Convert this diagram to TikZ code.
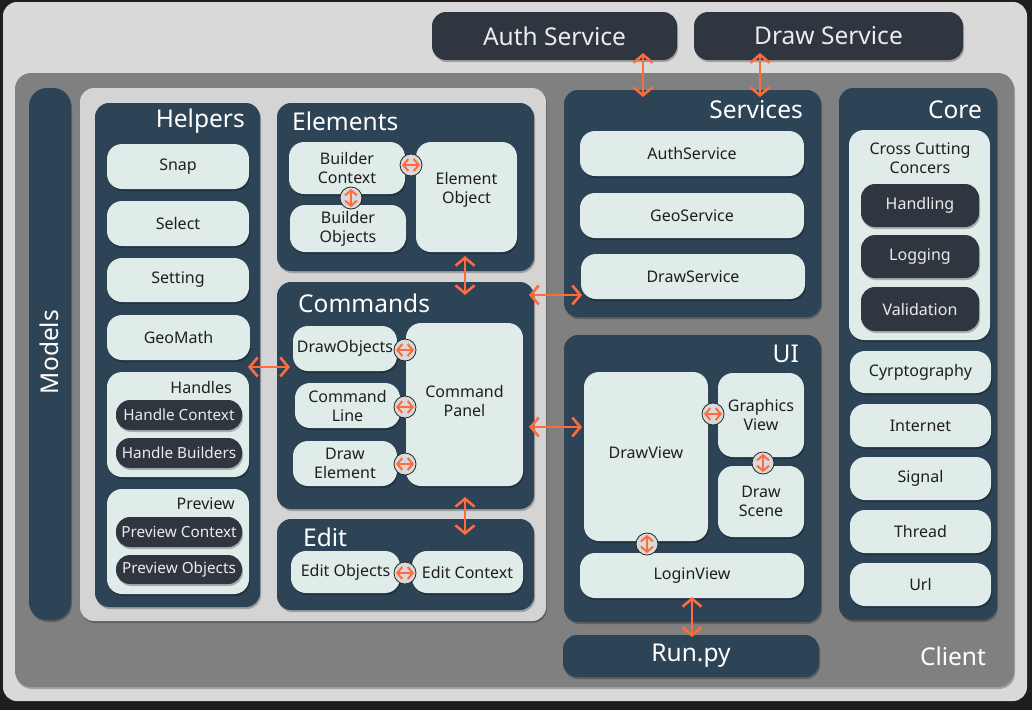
\documentclass[tikz,border=0pt]{standalone}
\usepackage{fontspec}
\setmainfont{Noto Sans}
\usetikzlibrary{arrows.meta,shadows}
\definecolor{bgdark}{HTML}{1E1E1E}
\definecolor{outerc}{HTML}{D9D9D9}
\definecolor{midgray}{HTML}{808080}
\definecolor{innerc}{HTML}{D4D4D4}
\definecolor{navy}{HTML}{2D4356}
\definecolor{mint}{HTML}{DFECE9}
\definecolor{pillc}{HTML}{30363F}
\definecolor{orng}{HTML}{FF6B3D}
\definecolor{circc}{HTML}{D9D9D9}
\tikzset{
  base/.style={inner sep=0, outer sep=0},
  shad/.style={drop shadow={shadow xshift=1pt, shadow yshift=-2pt, opacity=0.25, fill=black}},
  panel/.style={base, fill=navy, rounded corners=14, shad},
  item/.style={base, fill=mint, rounded corners=15, text=black!88, align=center,
    font=\fontsize{16}{19}\selectfont, shad},
  darkpill/.style={base, fill=pillc, rounded corners=14, text=white!92!black, align=center,
    font=\fontsize{15.3}{18}\selectfont, shad},
  ttl/.style={inner sep=0, text=white, font=\fontsize{24.5}{28}\selectfont},
  sublbl/.style={inner sep=0, text=black!88, align=center, font=\fontsize{16}{19}\selectfont},
  conn/.style={draw=orng, line width=2.6pt,
    {Straight Barb[length=8pt,width=19pt]}-{Straight Barb[length=8pt,width=19pt]}},
  cir/.style={circle, fill=circc, draw=black!85, line width=0.8pt, minimum size=22pt, inner sep=0},
  sarr/.style={draw=orng, line width=2pt,
    {Straight Barb[length=5pt,width=12pt]}-{Straight Barb[length=5pt,width=12pt]}},
}
\newcommand\bx[7]{\node[#6, minimum width={#4-#2}, minimum height={#5-#3}] (#1) at ({(#2+#4)/2},{(#3+#5)/2}) {#7};}
\begin{document}
\begin{tikzpicture}[x=1pt,y=-1pt]
\fill[bgdark] (0,0) rectangle (1032,710);
\useasboundingbox (0,0) rectangle (1032,710);
% outer frames
\bx{frame}{3}{2}{1027}{701}{base, fill=outerc, rounded corners=14}{}
\bx{client}{15}{73}{1014}{687}{base, fill=midgray, rounded corners=16, shad}{}
\node[ttl] (clientlbl) at (953,656) {Client};
% external services
\bx{authS}{432}{12}{677}{60}{darkpill, font=\fontsize{24.5}{28}\selectfont}{Auth Service}
\bx{drawS}{694}{12}{963}{60}{darkpill, font=\fontsize{24.5}{28}\selectfont}{Draw Service}
% models
\bx{models}{29}{88}{71}{620}{panel, rounded corners=18}{}
\node[ttl, rotate=90] (modelslbl) at (49,352) {Models};
% light inner panel
\bx{innerp}{80}{88}{546}{621}{base, fill=innerc, rounded corners=14, shad}{}
% helpers
\bx{helpers}{95}{103}{260}{607}{panel}{}
\node[ttl, anchor=east] (helperslbl) at (245,121) {Helpers};
\bx{snap}{107}{144}{249}{189}{item}{Snap}
\bx{select}{107}{201}{249}{246}{item}{Select}
\bx{setting}{107}{258}{249}{302}{item}{Setting}
\bx{geomath}{107}{315}{250}{360}{item}{GeoMath}
\bx{handles}{107}{372}{249}{477}{item}{}
\node[sublbl, anchor=east] (handleslbl) at (232,387) {Handles};
\bx{hctx}{116}{400}{242}{430}{darkpill}{Handle Context}
\bx{hbld}{116}{438}{242}{468}{darkpill}{Handle Builders}
\bx{preview}{107}{489}{249}{594}{item}{}
\node[sublbl, anchor=east] (previewlbl) at (235,504) {Preview};
\bx{pctx}{116}{517}{242}{547}{darkpill}{Preview Context}
\bx{pobj}{116}{555}{242}{584}{darkpill}{Preview Objects}
% elements
\bx{elements}{277}{103}{534}{271}{panel}{}
\node[ttl, anchor=west] (elementslbl) at (292,121) {Elements};
\bx{bctx}{289}{142}{405}{194}{item}{Builder\\Context}
\bx{bobj}{290}{205}{406}{252}{item}{Builder\\Objects}
\bx{eobj}{416}{142}{517}{252}{item}{}
\node[sublbl] (eobjlbl) at (466.5,189.5) {Element\\Object};
\node[cir] (c1) at (411,165) {};
\node[cir] (c2) at (351,198) {};
% commands
\bx{commands}{277}{282}{534}{509}{panel}{}
\node[ttl, anchor=west] (commandslbl) at (298,303) {Commands};
\bx{dobj}{293}{326}{397}{371}{item}{DrawObjects}
\bx{cline}{295}{383}{400}{428}{item}{Command\\Line}
\bx{delem}{293}{441}{397}{486}{item}{Draw\\Element}
\bx{cpanel}{406}{323}{523}{486}{item}{}
\node[sublbl] (cpanellbl) at (464.5,401) {Command\\Panel};
\node[cir] (c3) at (405,350) {};
\node[cir] (c4) at (405,407) {};
\node[cir] (c5) at (405,464) {};
% edit
\bx{edit}{277}{519}{534}{610}{panel}{}
\node[ttl, anchor=west] (editlbl) at (303,537) {Edit};
\bx{eobjs}{291}{551}{400}{593}{item}{Edit Objects}
\bx{ectx}{412}{551}{523}{593}{item}{Edit Context}
\node[cir] (c6) at (405,573) {};
% services
\bx{services}{564}{90}{821}{317}{panel}{}
\node[ttl, anchor=east] (serviceslbl) at (803,110) {Services};
\bx{authsvc}{580}{131}{804}{176}{item}{AuthService}
\bx{geosvc}{580}{193}{804}{238}{item}{GeoService}
\bx{drawsvc}{581}{254}{805}{299}{item}{DrawService}
% core
\bx{core}{839}{88}{997}{620}{panel}{}
\node[ttl, anchor=east] (corelbl) at (982,110) {Core};
\bx{cross}{849}{130}{990}{340}{item}{}
\node[sublbl] (crosslbl) at (920,158) {Cross Cutting\\Concers};
\bx{handling}{861}{184}{979}{227}{darkpill, font=\fontsize{16}{19}\selectfont}{Handling}
\bx{logging}{861}{235}{979}{278}{darkpill, font=\fontsize{16}{19}\selectfont}{Logging}
\bx{validation}{861}{287}{979}{331}{darkpill, font=\fontsize{16}{19}\selectfont}{Validation}
\bx{crypto}{850}{351}{991}{393}{item}{Cyrptography}
\bx{internet}{850}{404}{991}{447}{item}{Internet}
\bx{signal}{850}{457}{991}{500}{item}{Signal}
\bx{thread}{850}{510}{991}{553}{item}{Thread}
\bx{url}{850}{563}{991}{606}{item}{Url}
% UI
\bx{ui}{564}{335}{821}{622}{panel}{}
\node[ttl, anchor=east] (uilbl) at (799,354) {UI};
\bx{drawview}{584}{372}{708}{541}{item}{}
\node[sublbl] (drawviewlbl) at (646,453) {DrawView};
\bx{gview}{718}{373}{804}{457}{item}{Graphics\\View}
\bx{dscene}{718}{466}{804}{537}{item}{Draw\\Scene}
\bx{loginview}{580}{553}{804}{598}{item}{LoginView}
\node[cir] (c7) at (713,414) {};
\node[cir] (c8) at (763,463) {};
\node[cir] (c9) at (647,544) {};
% run.py
\bx{runpy}{563}{635}{819}{677}{panel}{}
\node[ttl] (runpylbl) at (691,656) {Run.py};
% small arrows in circles
\foreach \c in {c1,c3,c4,c5,c6,c7}{
  \draw[sarr] ([xshift=-9pt]\c.center) -- ([xshift=9pt]\c.center);
}
\foreach \c in {c2,c8,c9}{
  \draw[sarr] ([yshift=-9pt]\c.center) -- ([yshift=9pt]\c.center);
}
% connectors
\draw[conn] ([xshift=88.5pt,yshift=7pt]authS.south) -- ([xshift=-49.5pt,yshift=-7pt]services.north);
\draw[conn] ([xshift=-68.5pt,yshift=7pt]drawS.south) -- ([xshift=67.5pt,yshift=-7pt]services.north);
\draw[conn] ([xshift=-1.5pt,yshift=-4pt]eobj.south) -- ([xshift=59.5pt,yshift=-13pt]commands.north);
\draw[conn] ([xshift=-5pt,yshift=100.5pt]commands.east) -- ([xshift=1pt,yshift=-18.5pt]drawsvc.west);
\draw[conn] ([xshift=-12pt,yshift=-12pt]helpers.east) -- ([xshift=-3pt,yshift=-18.5pt]dobj.west);
\draw[conn] ([xshift=-5pt,yshift=-31.5pt]commands.east) -- ([xshift=-2pt,yshift=29.5pt]drawview.west);
\draw[conn] ([xshift=59.5pt,yshift=12pt]commands.south) -- ([xshift=59.5pt,yshift=-16pt]edit.north);
\draw[conn] ([yshift=1pt]loginview.south) -- ([xshift=1pt,yshift=-2pt]runpy.north);
\end{tikzpicture}
\end{document}
